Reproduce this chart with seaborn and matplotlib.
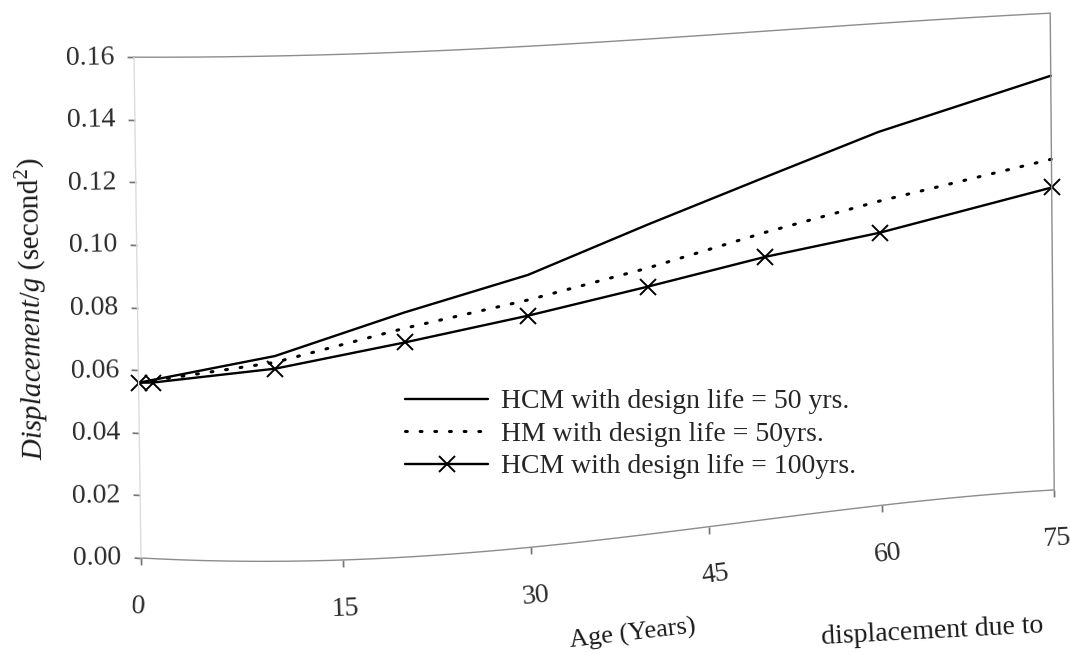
import numpy as np
import pandas as pd
import matplotlib
matplotlib.use("Agg")
import matplotlib.pyplot as plt
import seaborn as sns
from mpl_toolkits.axisartist import floating_axes
from mpl_toolkits.axisartist.grid_finder import FixedLocator, DictFormatter

# ---- data -------------------------------------------------------------
age = [0, 10, 20, 30, 40, 50, 60, 75]
hcm_50yr = [0.056, 0.065, 0.0775, 0.087, 0.100, 0.112, 0.124, 0.139]
hm_50yr = [0.056, 0.063, 0.0725, 0.079, 0.086, 0.094, 0.101, 0.111]
age_100 = [0, 1, 10, 20, 30, 40, 50, 60, 75]
hcm_100yr = [0.056, 0.0562, 0.061, 0.068, 0.074, 0.080, 0.086, 0.0905, 0.1015]

x_ticks = [0, 15, 30, 45, 60, 75]
y_ticks = [0.00, 0.02, 0.04, 0.06, 0.08, 0.10, 0.12, 0.14, 0.16]
y_tick_labels = ["0.00", "0.02", "0.04", "0.06", "0.08", "0.10", "0.12", "0.14", "0.16"]
series_labels = ["HCM with design life = 50 yrs.",
                 "HM with design life = 50yrs.",
                 "HCM with design life = 100yrs."]

# ---- style ------------------------------------------------------------
sns.set_theme(style="white")
plt.rcParams["font.family"] = ["Liberation Serif", "DejaVu Serif"]
plt.rcParams["mathtext.fontset"] = "custom"
plt.rcParams["mathtext.rm"] = "Liberation Serif"
plt.rcParams["mathtext.it"] = "Liberation Serif:italic"

W, H = 1070, 653
AGE_MAX, DISP_MAX = 75.0, 0.16

# ---- curved page geometry of the printed chart frame (pixels) ---------
knots = np.linspace(0, 1, 6)
bottom_x = np.polyfit(knots, [141, 343, 532, 708, 883, 1054], 3)
bottom_y = np.polyfit(knots, [558, 560, 547, 527, 505, 490], 3)
top_y = np.polyfit(knots, [57, 55, 46, 35, 24, 13], 3)


def _page(u, w):
    xb = np.polyval(bottom_x, u)
    xs = xb + w * (-7.0 + 3.0 * u)
    yb = np.polyval(bottom_y, u)
    yt = np.polyval(top_y, u)
    ys = yb + w * (yt - yb)
    return xs, H - ys


def to_page(a, v):
    return _page(np.asarray(a, float) / AGE_MAX, np.asarray(v, float) / DISP_MAX)


def from_page(x, y):
    x = np.asarray(x, float)
    y = np.asarray(y, float)
    u = (x - 141.0) / 913.0
    w = (y - (H - 558.0)) / 500.0
    for _ in range(60):
        xs, ys = _page(u, w)
        u = u + (x - xs) / 950.0
        w = w + (y - ys) / 490.0
    return u * AGE_MAX, w * DISP_MAX


helper = floating_axes.GridHelperCurveLinear(
    (to_page, from_page),
    extremes=(0, AGE_MAX, 0, DISP_MAX),
    grid_locator1=FixedLocator(x_ticks),
    grid_locator2=FixedLocator(y_ticks),
    tick_formatter1=DictFormatter({t: str(t) for t in x_ticks}),
    tick_formatter2=DictFormatter(dict(zip(y_ticks, y_tick_labels))),
)

fig = plt.figure(figsize=(W / 100, H / 100), dpi=100)
ax = fig.add_axes([0, 0, 1, 1], axes_class=floating_axes.FloatingAxes,
                  grid_helper=helper)
ax.set_xlim(0, W)
ax.set_ylim(0, H)
aux = ax.get_aux_axes(helper.grid_finder.get_transform())

# ---- series -----------------------------------------------------------
d_hcm50 = pd.DataFrame({"age": age, "disp": hcm_50yr})
d_hm50 = pd.DataFrame({"age": age, "disp": hm_50yr})
d_hcm100 = pd.DataFrame({"age": age_100, "disp": hcm_100yr})

sns.lineplot(data=d_hcm50, x="age", y="disp", ax=aux, color="black",
             linewidth=1.7, errorbar=None, legend=False)
sns.lineplot(data=d_hm50, x="age", y="disp", ax=aux, color="black",
             linewidth=2.2, linestyle=(0, (0.6, 4.2)), dash_capstyle="round",
             errorbar=None, legend=False)
sns.lineplot(data=d_hcm100, x="age", y="disp", ax=aux, color="black",
             linewidth=1.7, marker="x", markersize=12, markeredgewidth=1.4,
             markeredgecolor="black", errorbar=None, legend=False)

# ---- axes decoration --------------------------------------------------
for side in ["top", "right", "bottom", "left"]:
    ax.axis[side].line.set_edgecolor("#8c8c8c")
    ax.axis[side].line.set_linewidth(1.0)
ax.axis["left"].line.set_edgecolor("#dcdcdc")
for side in ["top", "right"]:
    ax.axis[side].major_ticks.set_visible(False)
    ax.axis[side].major_ticklabels.set_visible(False)
for side in ["left", "bottom"]:
    ticks = ax.axis[side].major_ticks
    ticks.set_tick_out(True)
    ticks.set_ticksize(5)
    ticks.set_color("#777777")
    tl = ax.axis[side].major_ticklabels
    tl.set_fontsize(20)
    tl.set_color("#2a2a2a")
ax.axis["left"].major_ticklabels.set_pad(9)
ax.axis["bottom"].major_ticklabels.set_pad(22)

ax.axis["left"].label.set_text(r"$\mathit{Displacement/g}$ (second$^{2}$)")
ax.axis["left"].label.set_fontsize(21)
ax.axis["left"].label.set_color("#1a1a1a")
ax.axis["left"].label.set_pad(14)
ax.axis["bottom"].label.set_text("Age (Years)")
ax.axis["bottom"].label.set_fontsize(19)
ax.axis["bottom"].label.set_color("#1a1a1a")
ax.axis["bottom"].label.set_pad(22)

ax.legend(aux.get_lines(), series_labels, loc="upper left",
          bbox_to_anchor=(405 / W, 1 - 389 / H), frameon=False, fontsize=20,
          handlelength=3.0, handletextpad=0.45, labelspacing=0.25,
          borderpad=0.0, borderaxespad=0.0)

# caption line along the lower edge of the page
fig.text(822 / W, 9 / H, "displacement due to", fontsize=20, rotation=3,
         rotation_mode="anchor", ha="left", va="baseline", color="#1a1a1a")

fig.savefig("out.png", dpi=100, facecolor="white")
